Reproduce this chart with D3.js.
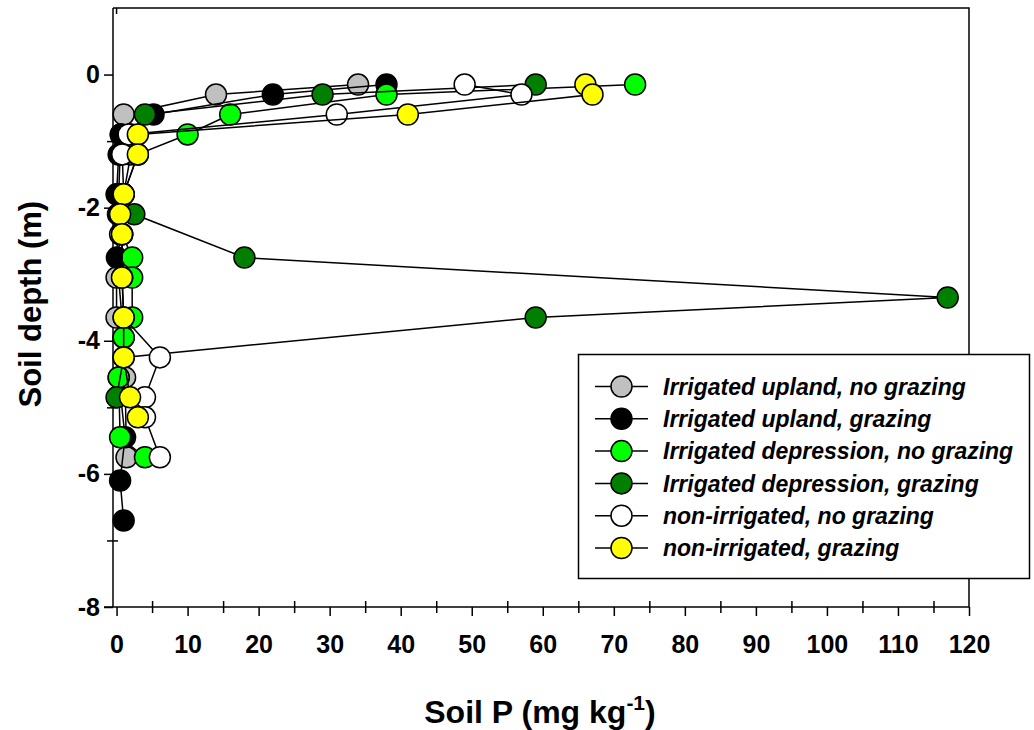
<!DOCTYPE html>
<html>
<head>
<meta charset="utf-8">
<script src="https://cdn.jsdelivr.net/npm/d3@7"></script>
<style>
  html, body { margin: 0; padding: 0; background: #fff; }
  svg { display: block; font-family: Arial, "Liberation Sans", sans-serif; }
</style>
</head>
<body>
<svg id="chart" width="1034" height="730"></svg>
<script>
// Soil P profiles (mg/kg) by depth (m) for six land-use treatments
const seriesNames = [
  "Irrigated upland, no grazing",
  "Irrigated upland, grazing",
  "Irrigated depression, no grazing",
  "Irrigated depression, grazing",
  "non-irrigated, no grazing",
  "non-irrigated, grazing"
];
const seriesColors = ["#c0c0c0", "#000000", "#00ff00", "#007f00", "#ffffff", "#ffff00"];

const uplandNoGrazDepth = [-0.15, -0.3, -0.6, -0.9, -1.2, -1.8, -2.4, -3.05, -3.65, -4.55, -5.75];
const uplandNoGrazP     = [34, 14, 1.0, 0.6, 0.5, 0.3, 0.5, 0, 0, 1.2, 1.4];

const uplandGrazDepth = [-0.15, -0.3, -0.6, -0.9, -1.2, -1.8, -2.1, -2.75, -3.95, -4.55, -5.45, -6.1, -6.7];
const uplandGrazP     = [38, 22, 5.2, 0.6, 0.3, 0, 0.2, 0.05, 1.0, 0.3, 1.2, 0.5, 1.0];

const deprNoGrazDepth = [-0.15, -0.3, -0.6, -0.9, -1.2, -1.8, -2.4, -2.75, -3.05, -3.65, -3.95, -4.55, -5.45, -5.75];
const deprNoGrazP     = [73, 38, 16, 10, 3.0, 1.0, 0.8, 2.2, 2.2, 2.2, 1.0, 0.3, 0.5, 4.0];

const deprGrazDepth = [-0.15, -0.3, -0.6, -0.9, -1.2, -1.8, -2.1, -2.75, -3.35, -3.65, -4.25, -4.85];
const deprGrazP     = [59, 29, 4.0, 2.0, 2.0, 1.0, 2.5, 18, 117, 59, 1.0, 0];

const nonIrrNoGrazDepth = [-0.15, -0.3, -0.6, -0.9, -1.2, -1.8, -2.4, -3.05, -3.65, -4.25, -4.85, -5.15, -5.75];
const nonIrrNoGrazP     = [49, 57, 31, 1.7, 0.8, 1.0, 0.8, 0.8, 1.0, 6.1, 4.0, 4.0, 6.1];

const nonIrrGrazDepth = [-0.15, -0.3, -0.6, -0.9, -1.2, -1.8, -2.1, -2.4, -3.05, -3.65, -4.25, -4.85, -5.15];
const nonIrrGrazP     = [66, 67, 41, 3.0, 3.0, 1.0, 0.5, 0.76, 0.76, 1.0, 1.0, 1.9, 3.0];

const depthSets = [uplandNoGrazDepth, uplandGrazDepth, deprNoGrazDepth, deprGrazDepth, nonIrrNoGrazDepth, nonIrrGrazDepth];
const pSets     = [uplandNoGrazP, uplandGrazP, deprNoGrazP, deprGrazP, nonIrrNoGrazP, nonIrrGrazP];

const xMajorTicks = d3.range(0, 121, 10);
const xMinorTicks = d3.range(5, 120, 10);
const yMajorTicks = [0, -2, -4, -6, -8];
const yMinorTicks = [-1, -3, -5, -7];

const svg = d3.select("#chart");
const plotLeft = 113, plotRight = 969, plotTop = 8, plotBottom = 607;

const x = d3.scaleLinear().domain([-0.5, 120]).range([plotLeft, plotRight]);
const y = d3.scaleLinear().domain([-8, 1]).range([plotBottom, plotTop]);

const series = seriesNames.map((name, i) => ({
  name,
  color: seriesColors[i],
  points: depthSets[i].map((d, j) => ({ depth: d, p: pSets[i][j] }))
}));

// plain hyphen-minus for negative tick labels
const plainFormat = d => String(d);

// plot frame (top and right edges)
svg.append("path")
  .attr("d", `M${plotLeft},${plotTop}H${plotRight}V${plotBottom}`)
  .attr("fill", "none").attr("stroke", "#000").attr("stroke-width", 1.5);

// x axis: outward major ticks with labels, crossing minor ticks
const xAxisG = svg.append("g").attr("transform", `translate(0,${plotBottom})`);
xAxisG.call(d3.axisBottom(x).tickValues(xMajorTicks).tickFormat(plainFormat)
  .tickSize(9).tickPadding(19).tickSizeOuter(0));
xAxisG.select(".domain").attr("d", `M${plotLeft - 9},0H${plotRight}`);
const xMinorG = svg.append("g").attr("transform", `translate(0,${plotBottom})`);
xMinorG.call(d3.axisBottom(x).tickValues(xMinorTicks).tickSize(6).tickFormat(""));
xMinorG.select(".domain").remove();
xMinorG.selectAll(".tick line").attr("y1", -6).attr("y2", 6);

// y axis
const yAxisG = svg.append("g").attr("transform", `translate(${plotLeft},0)`);
yAxisG.call(d3.axisLeft(y).tickValues(yMajorTicks).tickFormat(plainFormat)
  .tickSize(9).tickPadding(4).tickSizeOuter(0));
yAxisG.select(".domain").attr("d", `M0,${plotTop}V${plotBottom}`);
const yMinorG = svg.append("g").attr("transform", `translate(${plotLeft},0)`);
yMinorG.call(d3.axisLeft(y).tickValues(yMinorTicks).tickSize(6).tickFormat(""));
yMinorG.select(".domain").remove();
yMinorG.selectAll(".tick line").attr("x1", -6).attr("x2", 5);

// small tick at x = 0 on the top edge
svg.append("line")
  .attr("x1", x(0)).attr("x2", x(0)).attr("y1", plotTop).attr("y2", plotTop + 6)
  .attr("stroke", "#000").attr("stroke-width", 1.5);

svg.selectAll(".domain, .tick line").attr("stroke", "#000").attr("stroke-width", 1.5);
svg.selectAll(".tick text")
  .attr("fill", "#000")
  .style("font-size", "25px").style("font-weight", "bold")
  .style("font-family", "Arial, 'Liberation Sans', sans-serif");

// axis titles
const xTitle = svg.append("text")
  .attr("x", 540).attr("y", 723)
  .attr("text-anchor", "middle")
  .style("font-size", "32px").style("font-weight", "bold");
xTitle.append("tspan").text("Soil P (mg kg");
xTitle.append("tspan").attr("dy", -13).style("font-size", "21px").text("-1");
xTitle.append("tspan").attr("dy", 13).text(")");

svg.append("text")
  .attr("transform", `translate(41,${y(-3.45)}) rotate(-90)`)
  .attr("text-anchor", "middle")
  .style("font-size", "31px").style("font-weight", "bold")
  .text("Soil depth (m)");

// profiles: connecting line then symbols, one treatment at a time
const line = d3.line().x(d => x(d.p)).y(d => y(d.depth));
const r = 10.5;
series.forEach(s => {
  const g = svg.append("g");
  g.append("path")
    .attr("d", line(s.points))
    .attr("fill", "none").attr("stroke", "#000").attr("stroke-width", 1.5);
  g.selectAll("circle").data(s.points).join("circle")
    .attr("cx", d => x(d.p)).attr("cy", d => y(d.depth)).attr("r", r)
    .attr("fill", s.color).attr("stroke", "#000").attr("stroke-width", 1.5);
});

// legend
const lg = svg.append("g");
lg.append("rect")
  .attr("x", 578.5).attr("y", 354.5).attr("width", 451).attr("height", 224)
  .attr("fill", "#fff").attr("stroke", "#000").attr("stroke-width", 1.5);
series.forEach((s, i) => {
  const cy = 386.5 + i * 32.3;
  lg.append("line").attr("x1", 595).attr("x2", 648).attr("y1", cy).attr("y2", cy)
    .attr("stroke", "#000").attr("stroke-width", 1.5);
  lg.append("circle").attr("cx", 621.5).attr("cy", cy).attr("r", r)
    .attr("fill", s.color).attr("stroke", "#000").attr("stroke-width", 1.5);
  lg.append("text").attr("x", 663).attr("y", cy).attr("dy", "0.36em")
    .style("font-size", "23px").style("font-weight", "bold").style("font-style", "italic")
    .text(s.name);
});
</script>
</body>
</html>
